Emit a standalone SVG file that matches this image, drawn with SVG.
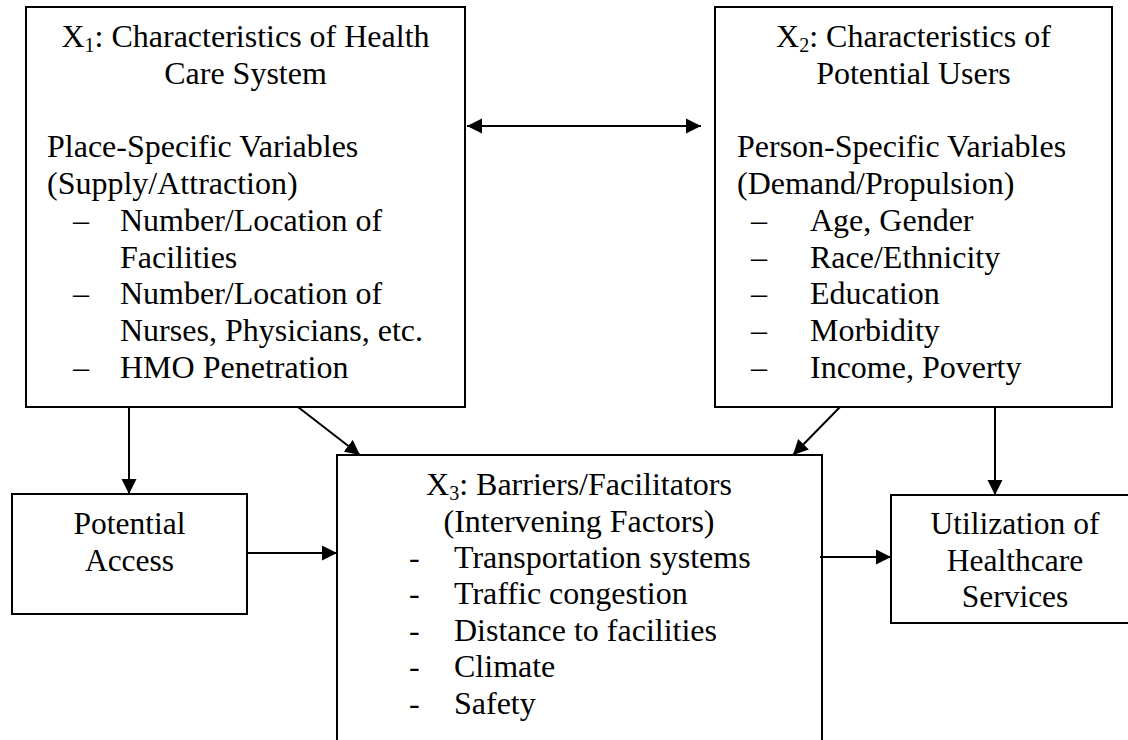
<svg xmlns="http://www.w3.org/2000/svg" width="1128" height="740" viewBox="0 0 1128 740">
<style>
  .box{fill:#fff;stroke:#000;stroke-width:2}
  text{font-family:'Liberation Serif','Times New Roman',Times,serif;fill:#000}
  .t{font-size:32px}
  .s{font-size:31.5px}
  .c{text-anchor:middle}
  .sub{font-size:20px}
  .ln{stroke:#000;stroke-width:2;fill:none}
</style>
<defs>
  <marker id="ah" markerUnits="userSpaceOnUse" markerWidth="16" markerHeight="16" viewBox="0 0 16 16" refX="15" refY="8" orient="auto-start-reverse">
    <path d="M0,0.5 L15,8 L0,15.5 Z" fill="#000"/>
  </marker>
</defs>
<rect width="1128" height="740" fill="#fff"/>

<g id="node-x1">
  <rect class="box" x="26" y="7" width="439" height="400"/>
  <text class="t c" x="245.5" y="47">X<tspan class="sub" dy="5">1</tspan><tspan dy="-5">: Characteristics of Health</tspan></text>
  <text class="t c" x="245.5" y="84">Care System</text>
  <text class="t" x="47" y="157">Place-Specific Variables</text>
  <text class="t" x="47" y="194">(Supply/Attraction)</text>
  <text class="t" x="73" y="231">–</text>
  <text class="t" x="120" y="231">Number/Location of</text>
  <text class="t" x="120" y="268">Facilities</text>
  <text class="t" x="73" y="304">–</text>
  <text class="t" x="120" y="304">Number/Location of</text>
  <text class="t" x="120" y="341">Nurses, Physicians, etc.</text>
  <text class="t" x="73" y="378">–</text>
  <text class="t" x="120" y="378">HMO Penetration</text>
</g>

<g id="node-x2">
  <rect class="box" x="715" y="7" width="397" height="400"/>
  <text class="t c" x="913.5" y="47">X<tspan class="sub" dy="5">2</tspan><tspan dy="-5">: Characteristics of</tspan></text>
  <text class="t c" x="913.5" y="84">Potential Users</text>
  <text class="t" x="737" y="157">Person-Specific Variables</text>
  <text class="t" x="737" y="194">(Demand/Propulsion)</text>
  <text class="t" x="751" y="231">–</text>
  <text class="t" x="810" y="231">Age, Gender</text>
  <text class="t" x="751" y="268">–</text>
  <text class="t" x="810" y="268">Race/Ethnicity</text>
  <text class="t" x="751" y="304">–</text>
  <text class="t" x="810" y="304">Education</text>
  <text class="t" x="751" y="341">–</text>
  <text class="t" x="810" y="341">Morbidity</text>
  <text class="t" x="751" y="378">–</text>
  <text class="t" x="810" y="378">Income, Poverty</text>
</g>

<g id="node-x3">
  <rect class="box" x="337" y="455" width="485" height="320"/>
  <text class="t c" x="579" y="495">X<tspan class="sub" dy="5">3</tspan><tspan dy="-5">: Barriers/Facilitators</tspan></text>
  <text class="t c" x="579" y="532">(Intervening Factors)</text>
  <text class="t" x="409" y="568">-</text>
  <text class="t" x="454" y="568">Transportation systems</text>
  <text class="t" x="409" y="604">-</text>
  <text class="t" x="454" y="604">Traffic congestion</text>
  <text class="t" x="409" y="641">-</text>
  <text class="t" x="454" y="641">Distance to facilities</text>
  <text class="t" x="409" y="677">-</text>
  <text class="t" x="454" y="677">Climate</text>
  <text class="t" x="409" y="714">-</text>
  <text class="t" x="454" y="714">Safety</text>
</g>

<g id="node-pa">
  <rect class="box" x="12" y="494" width="235" height="120"/>
  <text class="s c" x="129.5" y="534">Potential</text>
  <text class="s c" x="129.5" y="571">Access</text>
</g>

<g id="node-util">
  <rect class="box" x="891" y="495" width="250" height="128"/>
  <text class="s c" x="1015" y="534">Utilization of</text>
  <text class="s c" x="1015" y="571">Healthcare</text>
  <text class="s c" x="1015" y="607">Services</text>
</g>

<g id="connectors">
  <line class="ln" x1="467" y1="126" x2="701" y2="126" marker-start="url(#ah)" marker-end="url(#ah)"/>
  <line class="ln" x1="129" y1="407" x2="129" y2="494" marker-end="url(#ah)"/>
  <line class="ln" x1="298" y1="407" x2="360" y2="455" marker-end="url(#ah)"/>
  <line class="ln" x1="840" y1="407" x2="793" y2="455" marker-end="url(#ah)"/>
  <line class="ln" x1="995" y1="407" x2="995" y2="495" marker-end="url(#ah)"/>
  <line class="ln" x1="247" y1="553" x2="337" y2="553" marker-end="url(#ah)"/>
  <line class="ln" x1="820" y1="557" x2="891" y2="557" marker-end="url(#ah)"/>
</g>
</svg>
